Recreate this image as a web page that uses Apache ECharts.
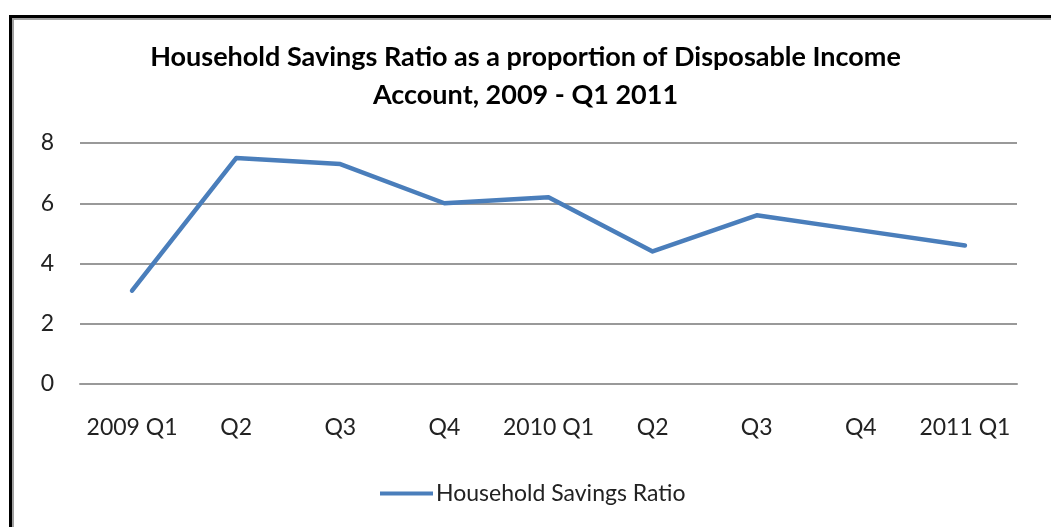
<!DOCTYPE html>
<html>
<head>
<meta charset="utf-8">
<script src="https://cdn.jsdelivr.net/npm/echarts@6/dist/echarts.min.js"></script>
<style>
    html, body { margin: 0; padding: 0; background: #fff; }
    #main { position: absolute; left: 0; top: 0; width: 1051px; height: 527px; }
    /* chart frame: only left and top edges are in view */
    #frame {
        position: absolute; left: 9px; top: 15px; width: 1100px; height: 600px;
        border-left: 3px solid #000; border-top: 3px solid #000;
        box-shadow: inset 2px 2px 0 #a0a0a0;
        pointer-events: none;
    }
</style>
</head>
<body>
<div id="main"></div>
<div id="frame"></div>
<script>
// 季度标签
var aQuarters = ['2009 Q1', 'Q2', 'Q3', 'Q4', '2010 Q1', 'Q2', 'Q3', 'Q4', '2011 Q1'];
// 家庭储蓄率 (%)
var aSavingsRatio = [3.1, 7.5, 7.3, 6.0, 6.2, 4.4, 5.6, 5.1, 4.6];
// 纵轴范围
var aYRange = [0, 8];

var sFont = 'Lato, "Open Sans", sans-serif';

function GetOption() {
    var jOption = {
        animation: false,
        title: {
            text: 'Household Savings Ratio as a proportion of Disposable Income\nAccount, 2009 - Q1 2011',
            left: 'center',
            top: 33,
            textStyle: {
                fontFamily: sFont,
                fontSize: 27,
                fontWeight: 'bold',
                color: '#000',
                lineHeight: 38
            }
        },
        legend: {
            bottom: 17,
            left: 375,
            itemWidth: 53,
            itemHeight: 14,
            itemGap: 4,
            icon: 'path://M0,5 L53,5 L53,9 L0,9 Z',
            data: ['Household Savings Ratio'],
            textStyle: {
                fontFamily: sFont,
                fontSize: 23,
                color: '#222',
                padding: [0, 0, 0, -2]
            }
        },
        grid: {
            left: 80,
            right: 34,
            top: 143,
            bottom: 143
        },
        xAxis: {
            type: 'category',
            data: aQuarters,
            boundaryGap: true,
            axisLine: { show: true, lineStyle: { color: '#999', width: 2 } },
            axisTick: { show: false },
            axisLabel: {
                interval: 0,
                hideOverlap: false,
                fontFamily: sFont,
                fontSize: 23,
                color: '#222',
                margin: 32
            }
        },
        yAxis: {
            type: 'value',
            min: aYRange[0],
            max: aYRange[1],
            interval: 2,
            axisLine: { show: false },
            axisTick: { show: false },
            splitLine: { lineStyle: { color: '#999', width: 2 } },
            axisLabel: {
                fontFamily: sFont,
                fontSize: 23,
                color: '#222',
                margin: 26
            }
        },
        series: [
            {
                name: 'Household Savings Ratio',
                type: 'line',
                data: aSavingsRatio,
                symbol: 'none',
                color: '#4a7ebb',
                lineStyle: { width: 4.5, color: '#4a7ebb', cap: 'round', join: 'round' }
            }
        ]
    };
    return jOption;
}

var myChart = echarts.init(document.getElementById('main'));
myChart.setOption(GetOption());
</script>
</body>
</html>
